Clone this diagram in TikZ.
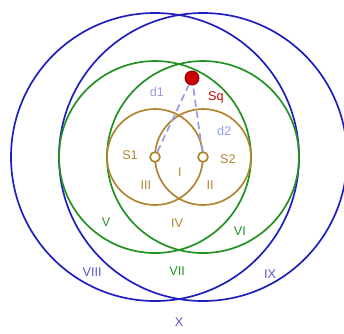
\documentclass[tikz,border=0pt]{standalone}
\usepackage{fontspec}
\setmainfont{Liberation Sans}
\definecolor{ringbrown}{RGB}{176,132,48}
\definecolor{ringgreen}{RGB}{34,145,34}
\definecolor{ringblue}{RGB}{30,30,190}
\definecolor{distblue}{RGB}{150,155,235}
\definecolor{sqred}{RGB}{200,0,0}
\begin{document}
\begin{tikzpicture}[x=1.2cm,y=1.2cm,
    ring/.style={line width=1.2pt},
    lbl/.style={font=\fontsize{9}{10}\selectfont,inner sep=1pt},
    centre/.style={circle,draw=ringbrown,fill=white,line width=1.2pt,minimum size=7pt,inner sep=0pt},
    dist/.style={draw=distblue,dashed,line width=1.2pt,dash pattern=on 5pt off 3pt}
]
\useasboundingbox (-3.229,-3.667) rectangle (3.9375,3.271);

\coordinate (c1) at (0,0);
\coordinate (c2) at (1,0);

% rings
\draw[ring,ringblue]  (c1) circle (3);
\draw[ring,ringblue]  (c2) circle (3);
\draw[ring,ringgreen] (c1) circle (2);
\draw[ring,ringgreen] (c2) circle (2);
\draw[ring,ringbrown] (c1) circle (1);
\draw[ring,ringbrown] (c2) circle (1);

% sources and target
\node[centre] (S1) at (c1) {};
\node[centre] (S2) at (c2) {};
\node[circle,fill=sqred,draw=sqred!70!black,line width=0.6pt,minimum size=10pt,inner sep=0pt] (Sq) at (0.771,1.646) {};

\draw[dist] (S1) -- (Sq);
\draw[dist] (S2) -- (Sq);

% labels
\node[lbl,distblue]  (d1)  at (0.04,1.35)  {d1};
\node[lbl,distblue]  (d2)  at (1.44,0.54)  {d2};
\node[lbl,sqred]     (lSq) at (1.27,1.25)  {Sq};
\node[lbl,ringbrown] (lS1) at (-0.52,0.04) {S1};
\node[lbl,ringbrown] (lS2) at (1.52,-0.04) {S2};
\node[lbl,ringbrown] (r1)  at (0.52,-0.31) {I};
\node[lbl,ringbrown] (r2)  at (1.15,-0.58) {II};
\node[lbl,ringbrown] (r3)  at (-0.19,-0.58) {III};
\node[lbl,ringbrown] (r4)  at (0.46,-1.375) {IV};
\node[lbl,ringgreen] (r5)  at (-1.02,-1.35) {V};
\node[lbl,ringgreen] (r6)  at (1.77,-1.54) {VI};
\node[lbl,ringgreen] (r7)  at (0.46,-2.375) {VII};
\node[lbl,ringblue!75!white]  (r8)  at (-1.31,-2.4) {VIII};
\node[lbl,ringblue!75!white]  (r9)  at (2.4,-2.44) {IX};
\node[lbl,ringblue!75!white]  (r10) at (0.5,-3.44) {X};
\end{tikzpicture}
\end{document}
